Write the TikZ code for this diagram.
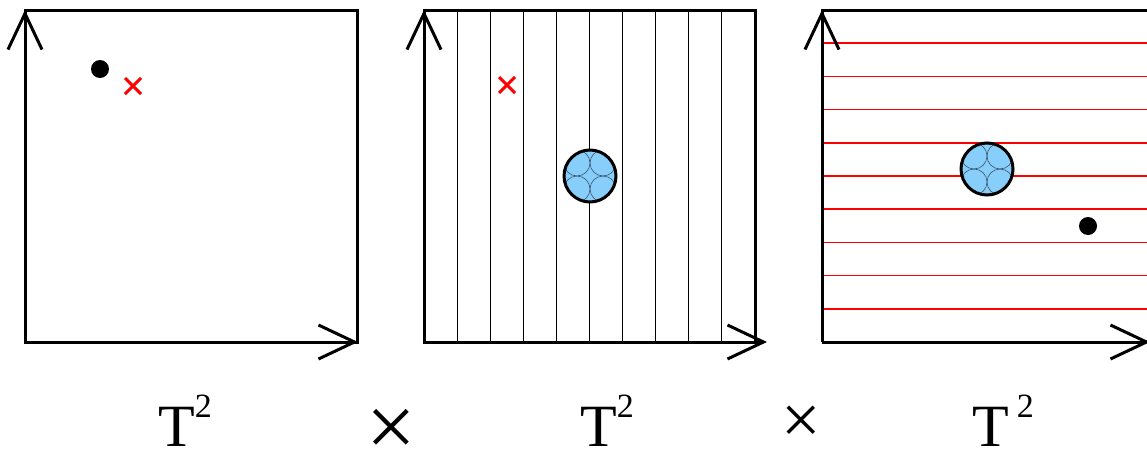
\documentclass[tikz,border=0pt]{standalone}
\usepackage{fontspec}
\setmainfont{Liberation Serif}
\usetikzlibrary{arrows.meta}

\definecolor{bubblefill}{HTML}{87CEFA}
\definecolor{petalline}{HTML}{3A5570}

\begin{document}
\begin{tikzpicture}[
      x=1pt, y=-1pt,
      frame/.style={line width=3pt},
      axis/.style={line width=3pt, -{Straight Barb[length=36pt, width=34pt]}},
      grid/.style={line width=1pt},
      redgrid/.style={line width=1.6pt, red},
      bubble/.style={fill=bubblefill},
      petal/.style={line width=0.6pt, petalline},
      cross/.style={line width=3pt, red},
      lbl/.style={inner sep=0pt, anchor=base west, font=\fontsize{60}{60}\selectfont},
      times/.style={inner sep=0pt, anchor=center},
    ]
    \useasboundingbox (0,0) rectangle (1147,450);

    % first torus: empty square with a point and a cross
    \draw[frame] (25,10) rectangle (357,342);
    \draw[axis] (25,342) -- (25,10);
    \draw[axis] (25,342) -- (358,342);
    \fill (100,69) circle (9pt);
    \draw[cross] (125,78) -- (141,94) (125,94) -- (141,78);

    % second torus: vertical black lines
    \foreach \k in {1,...,9}
      \draw[grid] (424+33.1*\k,10) -- (424+33.1*\k,342);
    \draw[frame] (424,10) rectangle (755,342);
    \draw[axis] (424,342) -- (424,10);
    \draw[axis] (424,342) -- (767,342);
    \draw[cross] (499,77) -- (515,93) (499,93) -- (515,77);

    % third torus: horizontal red lines, cut at the right
    \foreach \k in {1,...,9}
      \draw[redgrid] (822,10+33.2*\k) -- (1160,10+33.2*\k);
    \draw[frame] (1160,10) -- (822,10) -- (822,342);
    \draw[axis] (822,342) -- (822,10);
    \draw[axis] (822,342) -- (1150,342);
    \fill (1088,226) circle (9pt);

    % the two blue discs with four inner circles
    \foreach \cx/\cy in {590/176,987/169} {
      \begin{scope}[shift={(\cx,\cy)}]
        \fill[bubble] (0,0) circle (26pt);
        \begin{scope}
          \clip (0,0) circle (26pt);
          \foreach \dx/\dy in {13/13,-13/13,13/-13,-13/-13}
            \draw[petal] (\dx,\dy) circle (13pt);
        \end{scope}
        \draw[frame] (0,0) circle (26pt);
      \end{scope}
    }

    % labels under the squares
    \node[lbl] (t1) at (158,446) {T\raisebox{29pt}{\fontsize{34}{34}\selectfont 2}};
    \node[lbl] (t2) at (580,446) {T\raisebox{29pt}{\fontsize{34}{34}\selectfont 2}};
    \node[lbl] (t3) at (972,446) {T\hspace{8pt}\raisebox{29pt}{\fontsize{34}{34}\selectfont 2}};
    \node[times, font=\fontsize{88}{88}\selectfont] (x1) at (391,433) {×};
    \node[times, font=\fontsize{70}{70}\selectfont] (x2) at (801,425) {×};
  \end{tikzpicture}
\end{document}
